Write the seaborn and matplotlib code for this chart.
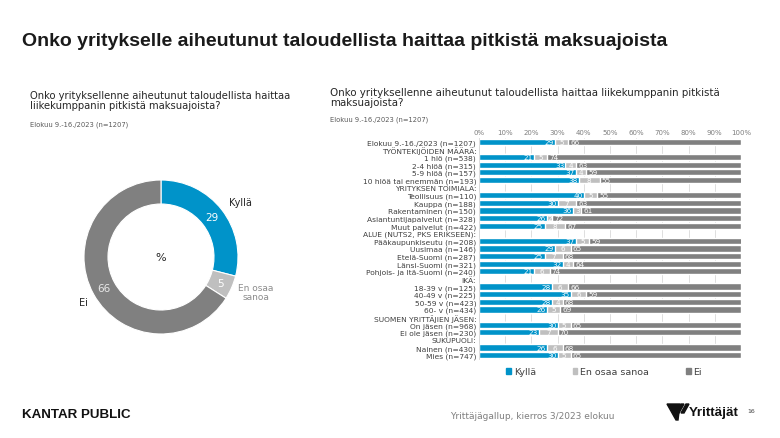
import numpy as np
import pandas as pd
import matplotlib
matplotlib.use("Agg")
import matplotlib.pyplot as plt
from matplotlib.patches import Patch, Polygon
import seaborn as sns

sns.set_theme(style="white")
plt.rcParams['font.family'] = ['DejaVu Sans']

# Data
BLUE = "#0093C9"
LIGHT = "#BFBFBF"
DARK = "#808080"
TEXT = "#404040"

pie_labels = ["Kyllä", "En osaa sanoa", "Ei"]
pie_values = [29, 5, 66]

rows = ["Elokuu 9.-16./2023 (n=1207)",
        "TYÖNTEKIJÖIDEN MÄÄRÄ:",
        "1 hlö (n=538)",
        "2-4 hlöä (n=315)",
        "5-9 hlöä (n=157)",
        "10 hlöä tai enemmän (n=193)",
        "YRITYKSEN TOIMIALA:",
        "Teollisuus (n=110)",
        "Kauppa (n=188)",
        "Rakentaminen (n=150)",
        "Asiantuntijapalvelut (n=328)",
        "Muut palvelut (n=422)",
        "ALUE (NUTS2, PKS ERIKSEEN):",
        "Pääkaupunkiseutu (n=208)",
        "Uusimaa (n=146)",
        "Etelä-Suomi (n=287)",
        "Länsi-Suomi (n=321)",
        "Pohjois- ja Itä-Suomi (n=240)",
        "IKÄ:",
        "18-39 v (n=125)",
        "40-49 v (n=225)",
        "50-59 v (n=423)",
        "60- v (n=434)",
        "SUOMEN YRITTÄJIEN JÄSEN:",
        "On jäsen (n=968)",
        "Ei ole jäsen (n=230)",
        "SUKUPUOLI:",
        "Nainen (n=430)",
        "Mies (n=747)"]
kylla = [29, None, 21, 33, 37, 38, None, 40, 30, 36, 26, 25, None, 37, 29, 25, 32, 21,
         None, 28, 35, 28, 26, None, 30, 23, None, 26, 30]
eos = [5, None, 5, 4, 4, 8, None, 5, 7, 3, 2, 8, None, 5, 6, 7, 4, 6,
       None, 6, 6, 4, 5, None, 5, 7, None, 6, 5]
ei = [66, None, 74, 63, 59, 55, None, 55, 63, 61, 72, 67, None, 59, 65, 68, 64, 74,
      None, 66, 59, 68, 69, None, 65, 70, None, 68, 65]

df = pd.DataFrame({"row": rows, "Kyllä": kylla, "En osaa sanoa": eos, "Ei": ei})
df["c1"] = df["Kyllä"]
df["c2"] = df["Kyllä"] + df["En osaa sanoa"]
df["c3"] = df["c2"] + df["Ei"]
data = df.dropna()

fig = plt.figure(figsize=(7.8, 4.39), dpi=100)
fig.patch.set_facecolor("white")

# Titles
fig.text(22 / 780, 1 - 42 / 439, "Onko yritykselle aiheutunut taloudellista haittaa pitkistä maksuajoista",
         fontsize=14, fontweight="bold", family="Liberation Sans", color="#1a1a1a", va="center")
fig.text(30 / 780, 1 - 101 / 439,
         "Onko yrityksellenne aiheutunut taloudellista haittaa\nliikekumppanin pitkistä maksuajoista?",
         fontsize=7.2, color="#262626", va="center", linespacing=1.1)
fig.text(30 / 780, 1 - 125 / 439, "Elokuu 9.-16./2023 (n=1207)", fontsize=4.9, color="#595959", va="center")
fig.text(330 / 780, 1 - 98 / 439,
         "Onko yrityksellenne aiheutunut taloudellista haittaa liikekumppanin pitkistä\nmaksuajoista?",
         fontsize=7.4, color="#262626", va="center", linespacing=1.1)
fig.text(330 / 780, 1 - 120 / 439, "Elokuu 9.-16./2023 (n=1207)", fontsize=4.9, color="#595959", va="center")

# Donut
cx, cy, r = 161, 258, 77
size = 220
axp = fig.add_axes([(cx - size / 2) / 780, 1 - (cy + size / 2) / 439, size / 780, size / 439])
rad = r / (size / 2)
wedges, _ = axp.pie(pie_values, colors=[BLUE, LIGHT, DARK], startangle=90, counterclock=False,
                    radius=rad, wedgeprops=dict(width=rad * 24 / 77, edgecolor="white", linewidth=0.8))
axp.set_xlim(-1, 1)
axp.set_ylim(-1, 1)
axp.set_aspect("equal")
axp.axis("off")
mid_r = rad * (1 - 12 / 77)
start = 90
for val, w, col in zip(pie_values, wedges, ["white", "white", "#e8e8e8"]):
    ang = np.deg2rad(start - val * 3.6 / 2)
    start -= val * 3.6
    axp.text(mid_r * np.cos(ang), mid_r * np.sin(ang), str(val), ha="center", va="center",
             fontsize=7.5, color=col)
axp.text(0, 0, "%", ha="center", va="center", fontsize=8, color="#262626")


def px(x, y):
    return ((x - cx) / (size / 2), -(y - cy) / (size / 2))


axp.text(*px(240, 203), "Kyllä", ha="center", va="center", fontsize=7, color="#262626")
axp.text(*px(256, 293), "En osaa\nsanoa", ha="center", va="center", fontsize=6.5, color="#8c8c8c",
         linespacing=1.0)
axp.text(*px(83, 303), "Ei", ha="center", va="center", fontsize=7, color="#262626")

# Stacked bars
ax = fig.add_axes([479 / 780, 1 - 360 / 439, 262 / 780, 221 / 439])
sns.barplot(data=data, x="c3", y="row", order=rows, color=DARK, orient="h", width=0.82,
            saturation=1, ax=ax)
sns.barplot(data=data, x="c2", y="row", order=rows, color=LIGHT, orient="h", width=0.82,
            saturation=1, ax=ax)
sns.barplot(data=data, x="c1", y="row", order=rows, color=BLUE, orient="h", width=0.82,
            saturation=1, ax=ax)

ax.set_xlim(0, 100)
ax.set_ylim(len(rows) - 0.5, -0.5)
ax.set_xticks(np.arange(0, 101, 10))
ax.set_xticklabels([f"{t}%" for t in range(0, 101, 10)])
ax.xaxis.tick_top()
ax.tick_params(axis="x", length=0, pad=2, labelsize=5, labelcolor="#7f7f7f")
ax.tick_params(axis="y", length=0, pad=2, labelsize=5.4, labelcolor=TEXT)
ax.set_xlabel("")
ax.set_ylabel("")
ax.grid(axis="x", color="#d9d9d9", linewidth=0.6)
ax.set_axisbelow(True)
for s in ["top", "right", "bottom"]:
    ax.spines[s].set_visible(False)
ax.spines["left"].set_color("#d9d9d9")
ax.spines["left"].set_linewidth(0.6)

pos = {name: i for i, name in enumerate(rows)}
for _, rw in data.iterrows():
    y = pos[rw["row"]]
    ax.text(rw["c1"] - 0.5, y, f"{rw['Kyllä']:.0f}", ha="right", va="center", fontsize=5.2, color="white")
    ax.text((rw["c1"] + rw["c2"]) / 2, y, f"{rw['En osaa sanoa']:.0f}", ha="center", va="center",
            fontsize=5.2, color="white")
    ax.text(rw["c2"] + 0.8, y, f"{rw['Ei']:.0f}", ha="left", va="center", fontsize=5.2, color="white")

handles = [Patch(color=BLUE), Patch(color=LIGHT), Patch(color=DARK)]
fig.legend(handles, pie_labels, loc="center", bbox_to_anchor=(604 / 780, 1 - 373 / 439), ncol=3,
           frameon=False, fontsize=6.8, handlelength=0.5, handleheight=0.5, handletextpad=0.3,
           columnspacing=3.9, labelcolor=TEXT)

# Footer
fig.text(22 / 780, 1 - 415 / 439, "KANTAR PUBLIC", fontsize=9.6, fontweight="bold", family="Liberation Sans",
         color="#111111", va="center")
fig.text(450 / 780, 1 - 417 / 439, "Yrittäjägallup, kierros 3/2023 elokuu", fontsize=6.5,
         family="Liberation Sans Narrow", color="#7f7f7f", va="center")

# small logo mark
def fpt(x, y):
    return (x / 780, 1 - y / 439)


fig.patches.append(Polygon([fpt(667, 405), fpt(680, 405), fpt(678, 421), fpt(676, 421)],
                           closed=True, color="#111111", transform=fig.transFigure))
for off in (0, 5):
    fig.patches.append(Polygon([fpt(681 + off, 405), fpt(684 + off, 405), fpt(679 + off, 414),
                                fpt(676 + off, 414)], closed=True, color="#111111",
                               transform=fig.transFigure))
fig.text(689 / 780, 1 - 413 / 439, "Yrittäjät", fontsize=9.6, fontweight="bold", family="Liberation Sans",
         color="#111111", va="center")
fig.text(747 / 780, 1 - 412 / 439, "16", fontsize=4.5, color="#404040", va="center")

fig.savefig("out.png", dpi=100, facecolor="white")
